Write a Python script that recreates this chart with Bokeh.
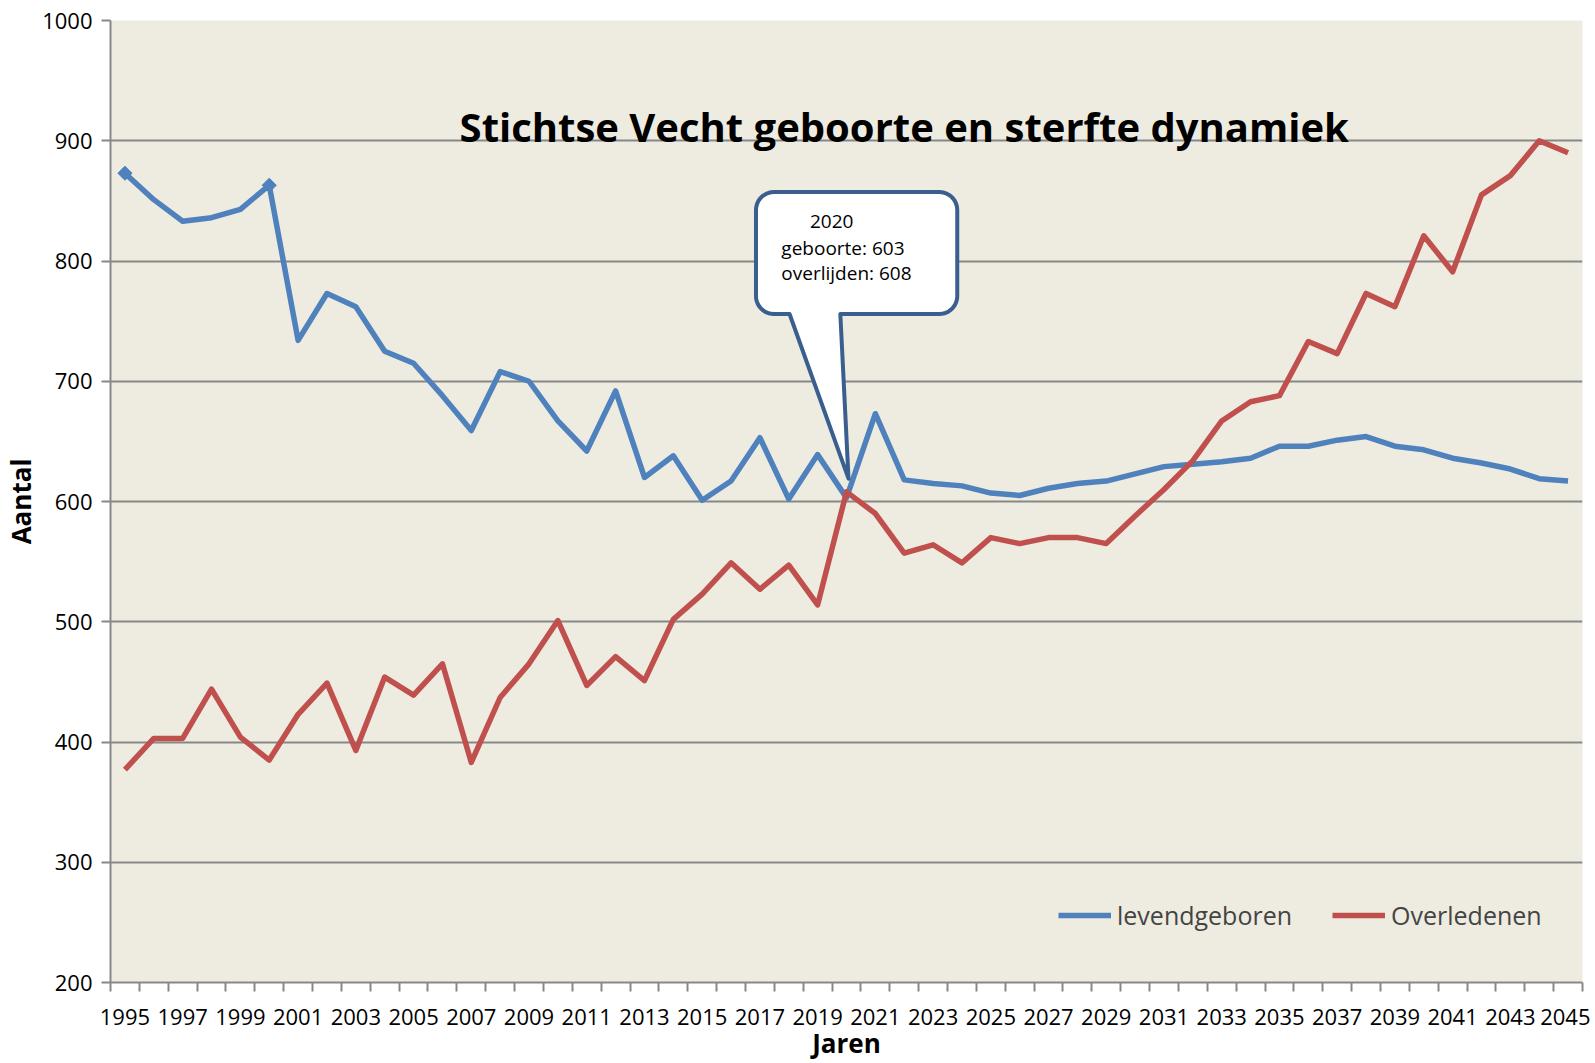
import numpy as np
from bokeh.plotting import figure
from bokeh.models import (Range1d, FixedTicker, Legend, LegendItem, Label)
from bokeh.core.properties import value
from bokeh.embed import file_html
from bokeh.resources import INLINE

# ---- data ----
years = list(range(1995, 2046))
levendgeboren = [873, 851, 833, 836, 843, 863, 734, 773, 762, 725, 715, 688, 659, 708, 700,
                 667, 642, 692, 620, 638, 601, 617, 653, 602, 639, 603, 673, 618, 615, 613,
                 607, 605, 611, 615, 617, 623, 629, 631, 633, 636, 646, 646, 651, 654, 646,
                 643, 636, 632, 627, 619, 617]
overledenen = [377, 403, 403, 444, 404, 385, 423, 449, 393, 454, 439, 465, 383, 437, 465,
               501, 447, 471, 451, 502, 523, 549, 527, 547, 514, 608, 590, 557, 564, 549,
               570, 565, 570, 570, 565, 588, 610, 634, 667, 683, 688, 733, 723, 773, 762,
               821, 791, 855, 871, 900, 890]
marker_years = [1995, 2000]
y_ticks = [200, 300, 400, 500, 600, 700, 800, 900, 1000]
x_label_years = list(range(1995, 2046, 2))
callout_year = 2020

title_text = "Stichtse Vecht geboorte en sterfte dynamiek"
FONT = "Open Sans"
BLUE = "#4F81BD"
RED = "#C0504D"
GRID = "#878787"

W, H = 1590, 1063
BL, BR, BT, BB = 109, 8, 20, 80
x0, x1 = years[0] - 0.5, years[-1] + 0.5
y0, y1 = 200, 1000

p = figure(width=W, height=H, output_backend="svg", toolbar_location=None,
           x_range=Range1d(x0, x1), y_range=Range1d(y0, y1),
           min_border_left=BL, min_border_right=BR, min_border_top=BT, min_border_bottom=BB)
p.background_fill_color = "#EEECE1"
p.border_fill_color = "white"
p.outline_line_color = None

# axes
p.xaxis.ticker = FixedTicker(ticks=x_label_years,
                             minor_ticks=[y - 0.5 for y in years] + [years[-1] + 0.5])
p.xaxis.major_tick_out = 0
p.xaxis.major_tick_in = 0
p.xaxis.minor_tick_out = 9
p.xaxis.minor_tick_in = 0
p.xaxis.minor_tick_line_color = GRID
p.xaxis.minor_tick_line_width = 2
p.xaxis.major_label_standoff = 17
p.xaxis.axis_label = "Jaren"
p.xaxis.axis_label_standoff = -3

p.yaxis.ticker = FixedTicker(ticks=y_ticks, minor_ticks=[])
p.yaxis.major_tick_out = 9
p.yaxis.major_tick_in = 0
p.yaxis.major_tick_line_color = GRID
p.yaxis.major_tick_line_width = 2
p.yaxis.major_label_standoff = 9
p.yaxis.axis_label = "Aantal"
p.yaxis.axis_label_standoff = 0

for ax in (p.xaxis, p.yaxis):
    ax.axis_line_color = GRID
    ax.axis_line_width = 2
    ax.major_label_text_font = FONT
    ax.major_label_text_font_size = "22px"
    ax.major_label_text_color = "black"
    ax.axis_label_text_font = FONT
    ax.axis_label_text_font_size = "26px"
    ax.axis_label_text_font_style = "bold"
    ax.axis_label_text_color = "black"

p.xgrid.visible = False
p.ygrid.ticker = FixedTicker(ticks=y_ticks)
p.ygrid.grid_line_color = GRID
p.ygrid.grid_line_width = 2

# series
r_blue = p.line(years, levendgeboren, line_color=BLUE, line_width=5.5, line_join="round")
r_red = p.line(years, overledenen, line_color=RED, line_width=5.5, line_join="round")
mk_y = [levendgeboren[years.index(y)] for y in marker_years]
p.scatter(marker_years, mk_y, marker="square", angle=np.pi / 4, size=10,
          fill_color=BLUE, line_color=BLUE, line_width=1)

# legend
legend = Legend(items=[LegendItem(label="levendgeboren", renderers=[r_blue]),
                       LegendItem(label="Overledenen", renderers=[r_red])],
                orientation="horizontal", location=(948, 50),
                background_fill_alpha=0, border_line_color=None,
                glyph_width=53, glyph_height=22, label_text_font=FONT,
                label_text_font_size="25px", spacing=40, label_standoff=6, padding=4)
p.add_layout(legend)

# title inside the plot
p.add_layout(Label(x=2022.0, y=912, text=title_text, text_align="center",
                   text_baseline="middle", text_font=FONT, text_font_size="40px",
                   text_font_style="bold", text_color="black"))

# callout
fw = W - BL - BR
fh = H - BT - BB
ppx = fw / (x1 - x0)   # pixels per year
ppy = fh / (y1 - y0)   # pixels per unit
idx = years.index(callout_year)
tip_x = callout_year + 0.07
tip_y = levendgeboren[idx] + 16
def dx(px):
    return px / ppx
def dy(px):
    return px / ppy
L = tip_x - dx(92.6)
R = tip_x + dx(108.8)
T = tip_y + dy(286.9)
B = tip_y + dy(164.8)
pb1 = tip_x - dx(59)
pb2 = tip_x - dx(8.2)
rad = 18
rx, ry = dx(rad), dy(rad)
xs, ys = [], []
def arc(cx, cy, a0, a1):
    t = np.radians(np.linspace(a0, a1, 12))
    xs.extend(cx + rx * np.cos(t))
    ys.extend(cy + ry * np.sin(t))
arc(L + rx, T - ry, 180, 90)
arc(R - rx, T - ry, 90, 0)
arc(R - rx, B + ry, 0, -90)
xs.extend([pb2, tip_x, pb1]); ys.extend([B, tip_y, B])
arc(L + rx, B + ry, -90, -180)
xs.append(xs[0]); ys.append(ys[0])
p.patch(xs, ys, fill_color="white", line_color="#3A5F8E", line_width=4, line_join="round")

lines = [str(callout_year),
         f"geboorte: {levendgeboren[idx]}",
         f"overlijden: {overledenen[idx]}"]
tx = [L + dx(54), L + dx(25.4), L + dx(25.4)]
ty = [T - dy(29.5), T - dy(56), T - dy(81.4)]
p.text(tx, ty, text=lines, text_align="left", text_baseline="middle",
       text_font=value(FONT), text_font_size="19px", text_color="black")

open("out.html", "w").write(file_html(p, INLINE))
